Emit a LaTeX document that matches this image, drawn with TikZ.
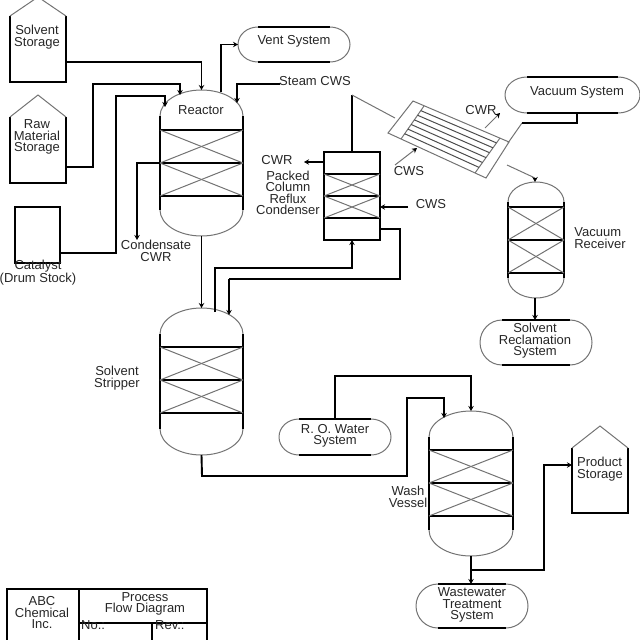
\documentclass[tikz,border=0pt]{standalone}
\usepackage{fontspec}
\setmainfont{Liberation Sans}
\usetikzlibrary{arrows.meta,calc}
\colorlet{soft}{black!55}
\tikzset{
  x=1pt,y=-1pt,
  eq/.style={rectangle,inner sep=0pt,outer sep=0pt,minimum width=#1},
  hard/.style={line width=1.9pt,black},
  thin soft/.style={line width=1pt,soft},
  flow/.style={hard,-{Stealth[length=5pt,width=5.5pt]}},
  pipe/.style={hard},
  softflow/.style={thin soft,-{Stealth[length=5pt,width=5.5pt,black]}},
  softpipe/.style={thin soft},
  lab/.style={inner sep=0pt,align=center,font=\fontsize{13}{11.5}\selectfont,text=black!85},
}
% name, cx, top, width, height, cap height, l1,l2,l3
\newcommand{\vesselbox}[9]{%
  \node[eq=#4,minimum height=#5] (#1) at ({#2},{#3+(#5)/2}) {};
  \draw[thin soft] ({#2-(#4)/2},{#3+#6}) arc[start angle=180,end angle=360,x radius={(#4)/2},y radius={#6}];
  \draw[thin soft] ({#2-(#4)/2},{#3+#5-#6}) arc[start angle=180,end angle=0,x radius={(#4)/2},y radius={#6}];
  \draw[hard] ({#2-(#4)/2},{#3+#6}) -- ({#2-(#4)/2},{#3+#5-#6});
  \draw[hard] ({#2+(#4)/2},{#3+#6}) -- ({#2+(#4)/2},{#3+#5-#6});
  \draw[hard] ({#2-(#4)/2},#7) -- ({#2+(#4)/2},#7);
  \draw[hard] ({#2-(#4)/2},#8) -- ({#2+(#4)/2},#8);
  \draw[hard] ({#2-(#4)/2},#9) -- ({#2+(#4)/2},#9);
  \draw[thin soft] ({#2-(#4)/2},#7) -- ({#2+(#4)/2},#8);
  \draw[thin soft] ({#2+(#4)/2},#7) -- ({#2-(#4)/2},#8);
  \draw[thin soft] ({#2-(#4)/2},#8) -- ({#2+(#4)/2},#9);
  \draw[thin soft] ({#2+(#4)/2},#8) -- ({#2-(#4)/2},#9);
}
% name, left, right, top, bottom, end radius
\newcommand{\stadium}[6]{%
  \node[eq={#3-#2},minimum height={#5-#4}] (#1) at ({(#2+#3)/2},{(#4+#5)/2}) {};
  \draw[hard] ({#2+#6},#4) -- ({#3-#6},#4);
  \draw[hard] ({#2+#6},#5) -- ({#3-#6},#5);
  \draw[thin soft] ({#2+#6},#4) arc[start angle=90,end angle=270,x radius=#6,y radius={-(#5-#4)/2}];
  \draw[thin soft] ({#3-#6},#4) arc[start angle=90,end angle=-90,x radius=#6,y radius={-(#5-#4)/2}];
}
% name, left, right, apex y, shoulder y, bottom
\newcommand{\house}[6]{%
  \node[eq={#3-#2},minimum height={#6-#5}] (#1) at ({(#2+#3)/2},{(#5+#6)/2}) {};
  \draw[hard] (#2,#5) -- (#2,#6) -- (#3,#6) -- (#3,#5);
  \draw[thin soft] (#2,#5) -- ({(#2+#3)/2},#4) -- (#3,#5);
}
\begin{document}
\begin{tikzpicture}
\useasboundingbox (0,0) rectangle (640,640);
\clip (0,0) rectangle (640,640);
% storage
\house{solvent}{10}{66}{-3}{16}{82}
\house{raw}{10}{66}{95}{117}{183}
\node[eq=45,minimum height=56,draw,hard] (drum) at (37.5,235) {};
\house{product}{572}{628}{426}{448}{513}
% vessels
\vesselbox{reactor}{201.5}{90}{83}{146}{26}{130}{163}{196}
\vesselbox{stripper}{201.5}{308}{83}{147}{26}{347}{380}{413}
\vesselbox{wash}{471}{411}{84}{145}{26}{450}{483}{516}
\vesselbox{receiver}{536}{182}{56}{116}{20}{207}{240}{273}
% condenser
\node[eq=56,minimum height=88,draw,hard] (cond) at (352,196) {};
\draw[hard] (cond.west |- 0,174) -- (cond.east |- 0,174);
\draw[hard] (cond.west |- 0,196) -- (cond.east |- 0,196);
\draw[hard] (cond.west |- 0,218) -- (cond.east |- 0,218);
\draw[thin soft] (cond.west |- 0,174) -- (cond.east |- 0,196);
\draw[thin soft] (cond.east |- 0,174) -- (cond.west |- 0,196);
\draw[thin soft] (cond.west |- 0,196) -- (cond.east |- 0,218);
\draw[thin soft] (cond.east |- 0,196) -- (cond.west |- 0,218);
% stadiums
\stadium{vent}{238}{350}{27}{62}{20}
\stadium{vacuum}{505}{640}{77}{113}{22}
\stadium{reclaim}{480}{592}{320}{365}{22}
\stadium{ro}{279}{391}{419}{455}{20}
\stadium{waste}{416}{528}{584}{628}{22}
% heat exchanger
\coordinate (hxA) at (413,101);
\coordinate (hxB) at (509,142);
\coordinate (hxC) at (486,178);
\coordinate (hxD) at (388,133);
\draw[thin soft] (hxA) -- (hxB) -- (hxC) -- (hxD) -- cycle;
\coordinate (hdA) at (424,106);
\coordinate (hdD) at (401,139);
\coordinate (hdB) at (500,138);
\coordinate (hdC) at (475,173);
\draw[thin soft] (hdA) -- (hdD);
\draw[thin soft] (hdB) -- (hdC);
\foreach \t in {0.14,0.28,0.42,0.56,0.70,0.84}{
  \draw[line width=1pt,black!70] ($(hdA)!\t!(hdD)$) -- ($(hdB)!\t!(hdC)$);
}
\coordinate (hxin) at (395,118);
\coordinate (hxcwrs) at (485,128);
\coordinate (hxcwre) at (500,113);
\coordinate (hxcwss) at (395,165);
\coordinate (hxcwse) at (417,148);
\coordinate (hxvac) at (508,143);
\coordinate (hxout) at (507,165);
% connectors
\draw[flow] (solvent.east |- 0,62) -| (reactor.north);
\draw[flow] (raw.east |- 0,167) -- (93,167) -- (93,84) -- (180,84) -- (180,95);
\draw[flow] (drum.east |- 0,253) -- (116,253) -- (116,96) -- (165,96) -- (165,107);
\draw[flow] (221,92) |- (vent.west);
\coordinate (steam) at (280,84);
\draw[flow] (steam) -- (237,84) -- (237,103);
\draw[flow] (reactor.west |- 0,163) -- (137,163) -- (137,240);
\draw[flow] (reactor.south) -- (stripper.north);
\draw[flow] (215,312) -- (215,268) -| (cond.south);
\draw[pipe] (cond.east |- 0,229) -- (400,229) -- (400,279) -- (229,279);
\draw[flow] (229,279) -- (229,315);
\draw[flow] (408,207) -- (cond.east |- 0,207);
\draw[flow] (cond.west |- 0,162) -- (304,162);
\draw[pipe] (cond.north) -- (352,95);
\draw[softpipe] (352,95) -- (hxin);
\draw[softflow] (hxcwrs) -- (hxcwre);
\draw[softflow] (hxcwss) -- (hxcwse);
\draw[softpipe] (hxvac) -- (522,123);
\draw[hard] (522,123) -| (577,113);
\draw[softpipe] (hxout) -- (535,178);
\draw[flow] (535,178) -- (receiver.north -| 535,0);
\draw[flow] (receiver.south -| 535,0) -- (reclaim.north -| 535,0);
\draw[flow] (ro.north) -- (335,376) -- (471,376) -- (wash.north);
\draw[flow] (stripper.south) -- (202,476) -- (407,476) -- (407,398) -- (444,398) -- (444,418);
\draw[flow] (wash.south) -- (waste.north -| wash.south);
\draw[flow] (471,570) -- (544,570) -- (544,465) -- (product.west |- 0,465);
% title block
\draw[hard] (7,641) -- (7,589) -- (207,589) -- (207,641);
\draw[hard] (79,589) -- (79,641);
\draw[hard] (79,623) -- (207,623);
\draw[hard] (152,623) -- (152,641);
% labels
\node[lab] (t1) at (37,37) {Solvent\\Storage};
\node[lab] (t2) at (37,137) {Raw\\Material\\Storage};
\node[lab] (t3) at (38,273) {Catalyst\\(Drum Stock)};
\node[lab] (t4) at (201,110) {Reactor};
\node[lab] (t5) at (294,41) {Vent System};
\node[lab] (t6) at (315,81) {Steam CWS};
\node[lab] (t7) at (156,251) {Condensate\\CWR};
\node[lab] (t8) at (277,160) {CWR};
\node[lab] (t9) at (288,193) {Packed\\Column\\Reflux\\Condenser};
\node[lab] (t10) at (431,204) {CWS};
\node[lab] (t11) at (481,110) {CWR};
\node[lab] (t12) at (409,171) {CWS};
\node[lab] (t13) at (577,92) {Vacuum System};
\node[lab,align=left] (t14) at (600,238) {Vacuum\\Receiver};
\node[lab] (t15) at (535,341) {Solvent\\Reclamation\\System};
\node[lab] (t16) at (117,378) {Solvent\\Stripper};
\node[lab] (t17) at (335,436) {R. O. Water\\System};
\node[lab] (t18) at (408,497) {Wash\\Vessel};
\node[lab,align=left] (t19) at (600,469) {Product\\Storage};
\node[lab] (t20) at (472,605) {Wastewater\\Treatment\\System};
\node[lab] (t21) at (42,613) {ABC\\Chemical\\Inc.};
\node[lab] (t22) at (145,604) {Process\\Flow Diagram};
\node[lab,anchor=west] (t23) at (81,625) {No.:};
\node[lab,anchor=west] (t24) at (155,625) {Rev.:};
\end{tikzpicture}
\end{document}
